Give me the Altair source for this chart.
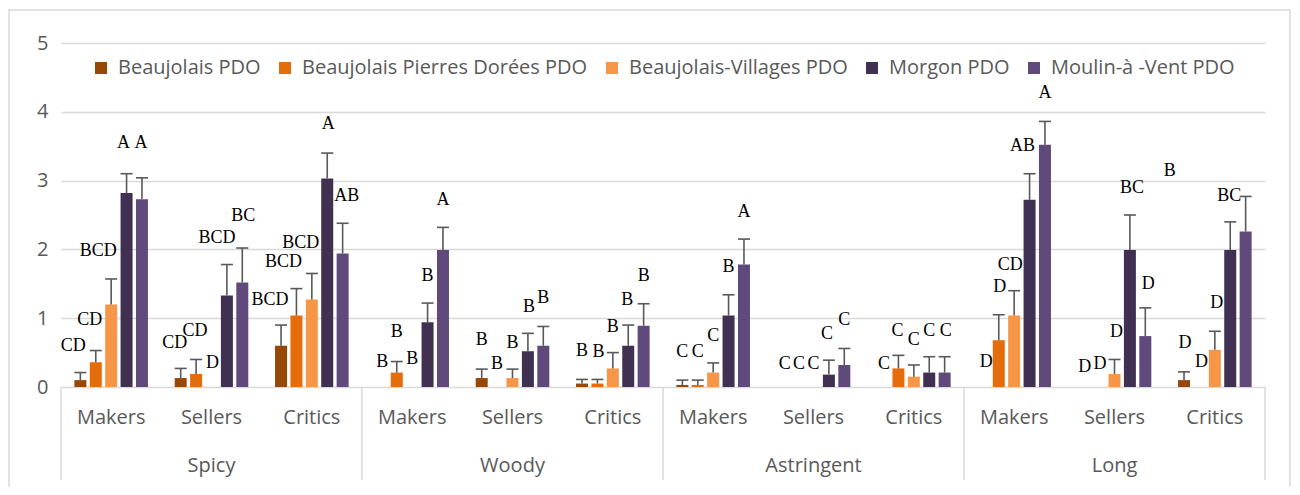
import altair as alt
import pandas as pd

groups = ["Spicy", "Woody", "Astringent", "Long"]
panels = ["Makers", "Sellers", "Critics"]
series = ["Beaujolais PDO", "Beaujolais Pierres Dorées PDO", "Beaujolais-Villages PDO",
          "Morgon PDO", "Moulin-à -Vent PDO"]
colors = ["#974806", "#E46C0A", "#F79646", "#403152", "#604A7B"]

# means, in order Spicy(M,S,C), Woody(M,S,C), Astringent(M,S,C), Long(M,S,C)
mean_bj = [0.10, 0.13, 0.60, 0.00, 0.13, 0.05, 0.03, 0.00, 0.00, 0.00, 0.00, 0.10]
mean_bpd = [0.36, 0.19, 1.04, 0.21, 0.00, 0.05, 0.03, 0.00, 0.27, 0.68, 0.00, 0.00]
mean_bv = [1.20, 0.00, 1.27, 0.00, 0.13, 0.27, 0.21, 0.00, 0.15, 1.04, 0.19, 0.54]
mean_mo = [2.82, 1.33, 3.03, 0.94, 0.52, 0.60, 1.04, 0.18, 0.21, 2.72, 1.99, 1.99]
mean_mv = [2.73, 1.52, 1.94, 1.99, 0.60, 0.89, 1.78, 0.32, 0.21, 3.52, 0.74, 2.26]

err_bj = [0.11, 0.14, 0.30, 0.00, 0.13, 0.06, 0.07, 0.00, 0.00, 0.00, 0.00, 0.12]
err_bpd = [0.17, 0.21, 0.39, 0.16, 0.00, 0.06, 0.07, 0.00, 0.19, 0.37, 0.00, 0.00]
err_bv = [0.37, 0.00, 0.38, 0.00, 0.13, 0.23, 0.14, 0.00, 0.17, 0.36, 0.21, 0.27]
err_mo = [0.28, 0.45, 0.37, 0.28, 0.26, 0.30, 0.30, 0.21, 0.23, 0.38, 0.51, 0.41]
err_mv = [0.31, 0.50, 0.44, 0.33, 0.28, 0.32, 0.37, 0.24, 0.23, 0.34, 0.41, 0.51]

let_bj = ["CD", "CD", "BCD", "B", "B", "B", "C", "C", "C", "D", "D", "D"]
let_bpd = ["CD", "CD", "BCD", "B", "B", "B", "C", "C", "C", "D", "D", "D"]
let_bv = ["BCD", "D", "BCD", "B", "B", "B", "C", "C", "C", "CD", "D", "D"]
let_mo = ["A", "BCD", "A", "B", "B", "B", "B", "C", "C", "AB", "BC", "BC"]
let_mv = ["A", "BC", "AB", "A", "B", "B", "A", "C", "C", "A", "D", "B"]

# height of each letter label (in value units)
lab_y_bj = [0.60, 0.64, 1.27, 0.36, 0.68, 0.52, 0.51, 0.34, 0.34, 0.36, 0.29, 0.64]
lab_y_bpd = [0.97, 0.81, 1.81, 0.80, 0.34, 0.51, 0.51, 0.34, 0.82, 1.45, 0.33, 0.36]
lab_y_bv = [1.98, 0.35, 2.09, 0.40, 0.64, 0.87, 0.74, 0.34, 0.69, 1.78, 0.80, 1.22]
lab_y_mo = [3.54, 2.16, 3.82, 1.62, 1.17, 1.26, 1.74, 0.77, 0.81, 3.50, 2.89, 2.77]
lab_y_mv = [3.54, 2.48, 2.78, 2.72, 1.29, 1.62, 2.55, 0.97, 0.81, 4.27, 1.50, 3.14]

# horizontal shift of each letter label from its bar (pixels)
lab_dx_bj = [-7, -6, -11, 1, 0, 0, 0, 2, 1, 3, 1, 1]
lab_dx_bpd = [-6, -1, -13, 0, 0, 1, 0, 1, -1, 1, 1, 2]
lab_dx_bv = [-13, 1, -11, 0, 0, 0, 0, 0, 0, -4, 2, 2]
lab_dx_mo = [-3, -10, 1, 0, 1, -1, 0, -2, 0, -7, 2, -1]
lab_dx_mv = [-1, 1, 4, 0, 0, 0, 0, 0, 1, 0, 3, -76]

means = [mean_bj, mean_bpd, mean_bv, mean_mo, mean_mv]
errs = [err_bj, err_bpd, err_bv, err_mo, err_mv]
lets = [let_bj, let_bpd, let_bv, let_mo, let_mv]
laby = [lab_y_bj, lab_y_bpd, lab_y_bv, lab_y_mo, lab_y_mv]
labdx = [lab_dx_bj, lab_dx_bpd, lab_dx_bv, lab_dx_mo, lab_dx_mv]

W, H = 1204, 344
NCELL = len(groups) * len(panels)
u = NCELL / W  # units per pixel
step = 15.4 * u
half = 6 * u

rows = []
for k, s in enumerate(series):
    for i in range(NCELL):
        xc = i + 0.5 + (k - 2) * step
        m = means[k][i]
        e = errs[k][i]
        rows.append({
            "series": s, "cell": i, "xc": xc, "x0": xc - half, "x1": xc + half,
            "mean": m, "base": 0.0, "err": e, "top": m + e,
            "letter": lets[k][i], "ly": laby[k][i], "lx": xc + labdx[k][i] * u,
        })
df = pd.DataFrame(rows)
df_err = df[df["err"] > 0]

cells = pd.DataFrame({
    "x": [i + 0.5 for i in range(NCELL)],
    "name": [panels[i % 3] for i in range(NCELL)],
})
grp = pd.DataFrame({"x": [g * 3 + 1.5 for g in range(len(groups))], "name": groups})
seps = pd.DataFrame({"x": [g * 3 for g in range(len(groups) + 1)]})

xscale = alt.Scale(domain=[0, NCELL], nice=False, zero=False)
yscale = alt.Scale(domain=[0, 5], nice=False)
gray = "#595959"

bars = alt.Chart(df).mark_bar().encode(
    x=alt.X("x0:Q", scale=xscale, axis=None),
    x2="x1:Q",
    y=alt.Y("mean:Q", scale=yscale,
            axis=alt.Axis(values=[0, 1, 2, 3, 4, 5], format="d", grid=True,
                          gridColor="#d9d9d9", gridWidth=1.5, domain=False, ticks=False,
                          labelFont="Open Sans", labelFontSize=20, labelColor=gray,
                          labelPadding=13, title=None)),
    y2="base:Q",
    color=alt.Color("series:N", scale=alt.Scale(domain=series, range=colors),
                    legend=alt.Legend(orient="none", legendX=30, legendY=15,
                                      direction="horizontal", title=None,
                                      symbolType="square", symbolSize=144,
                                      symbolStrokeWidth=0, labelFont="Open Sans",
                                      labelFontSize=20, labelColor=gray,
                                      columnPadding=14, labelOffset=7, labelLimit=400)),
)

stems = alt.Chart(df_err).mark_rule(color=gray, strokeWidth=1.6).encode(
    x=alt.X("xc:Q", scale=xscale), y=alt.Y("mean:Q", scale=yscale), y2="top:Q")
caps = alt.Chart(df_err).mark_rule(color=gray, strokeWidth=1.6).encode(
    x=alt.X("x0:Q", scale=xscale), x2="x1:Q", y=alt.Y("top:Q", scale=yscale))

letters = alt.Chart(df).mark_text(font="Liberation Serif", fontSize=18, color="black",
                                  baseline="middle", align="center").encode(
    x=alt.X("lx:Q", scale=xscale), y=alt.Y("ly:Q", scale=yscale), text="letter:N")

cell_labels = alt.Chart(cells).mark_text(font="Open Sans", fontSize=20, color=gray,
                                         baseline="middle").encode(
    x=alt.X("x:Q", scale=xscale), y=alt.value(375), text="name:N")
grp_labels = alt.Chart(grp).mark_text(font="Open Sans", fontSize=20, color=gray,
                                      baseline="middle").encode(
    x=alt.X("x:Q", scale=xscale), y=alt.value(423), text="name:N")
sep_lines = alt.Chart(seps).mark_rule(color="#d9d9d9", strokeWidth=1.5).encode(
    x=alt.X("x:Q", scale=xscale), y=alt.value(H), y2=alt.value(437))

frame = alt.Chart(pd.DataFrame({"a": [0]})).mark_rect(
    fill="transparent", stroke="#d9d9d9", strokeWidth=1.5).encode(
    x=alt.value(-52), x2=alt.value(1229), y=alt.value(-33), y2=alt.value(470))

chart = alt.layer(frame, bars, stems, caps, letters, cell_labels, grp_labels, sep_lines).properties(
    width=W, height=H,
    padding={"left": 53, "top": 35, "right": 27, "bottom": 100},
    autosize=alt.AutoSizeParams(type="none"),
).configure_view(stroke=None)

chart.save("out.html", embed_options={"renderer": "svg", "actions": False})
